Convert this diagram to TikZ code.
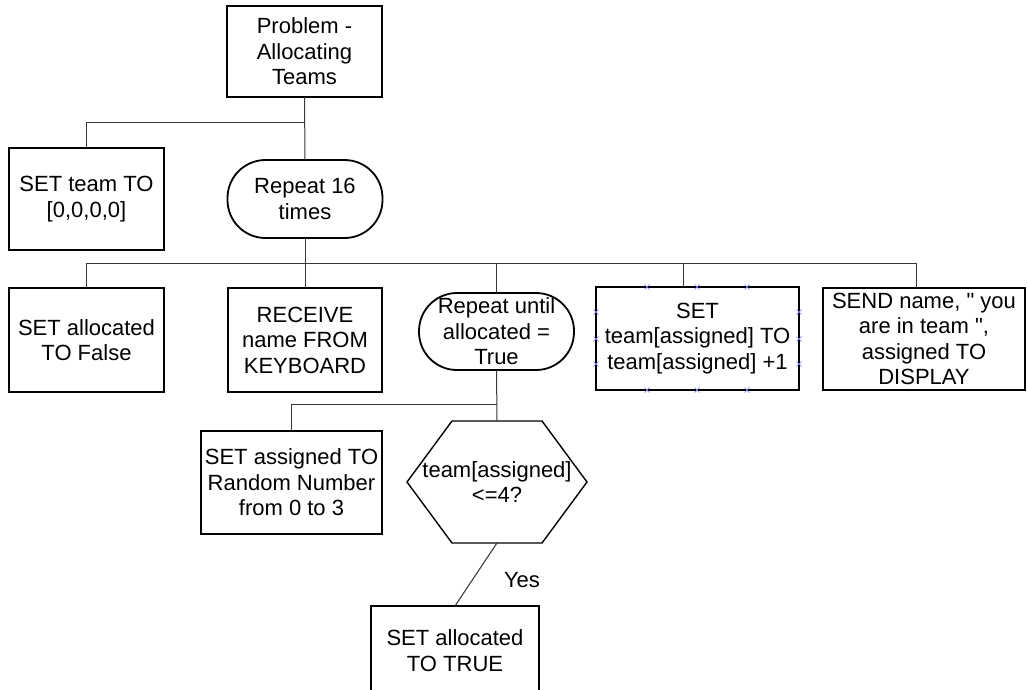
\documentclass[tikz,border=0pt]{standalone}
\usepackage{fontspec}
\setmainfont{Liberation Sans}
\usetikzlibrary{calc}
\begin{document}
\begin{tikzpicture}[x=1pt,y=-1pt,
  every node/.style={font=\fontsize{22}{25.5}\selectfont, align=center, inner sep=0pt, outer sep=0pt},
  box/.style 2 args={draw=black, line width=1.8pt, rectangle, minimum width=#1pt, minimum height=#2pt},
  thinbox/.style 2 args={draw=black, line width=1.4pt, rectangle, minimum width=#1pt, minimum height=#2pt},
  oval/.style 2 args={draw=black, line width=1.8pt, rectangle, rounded corners=38pt, minimum width=#1pt, minimum height=#2pt},
  hexline/.style={draw=black, line width=1.4pt, line join=miter},
  link/.style={draw=black!78, line width=1pt},
  handle/.style={draw=blue!50, line width=0.7pt}
]
\useasboundingbox (0,0) rectangle (1027,689);
\clip (0,0) rectangle (1027,689);

% top level
\node[box={155}{91}] (top) at (304.5,51.5) {Problem -\\Allocating\\Teams};
\node[box={155}{102}] (setteam) at (86.5,199) {SET team TO\\{}[0,0,0,0]};
\node[oval={155}{78}] (rep16) at (305,199) {Repeat 16\\times};

% body of the outer loop
\node[box={155}{104}] (setalloc) at (86.5,340) {SET allocated\\TO False};
\node[box={154}{104}] (receive) at (305,340) {RECEIVE\\name FROM\\KEYBOARD};
\node[oval={155}{77}] (repuntil) at (496.5,331.5) {Repeat until\\allocated =\\True};
\node[box={203}{103}] (setinc) at (697.5,338.5) {SET\\team[assigned] TO\\team[assigned] +1};
\node[box={202}{102}] (send) at (924,339) {SEND name, \textquotedbl{} you\\are in team \textquotedbl,\\assigned TO\\DISPLAY};

% body of the inner loop
\node[box={181}{103}] (setrand) at (291.5,482.5) {SET assigned TO\\Random Number\\from 0 to 3};
\node[minimum width=180pt, minimum height=122pt] (hex) at (497,482) {team[assigned]\\<=4?};
\draw[hexline] ($(hex.north west)+(45,0)$) -- ($(hex.north east)+(-45,0)$) -- (hex.east)
  -- ($(hex.south east)+(-45,0)$) -- ($(hex.south west)+(45,0)$) -- (hex.west) -- cycle;
\node[thinbox={168}{89}] (settrue) at (455,650.5) {SET allocated\\TO TRUE};
\node (yes) at (522,580) {Yes};

% connectors
\coordinate (b1) at (304.5,122);
\draw[link] (top.south) -- (rep16.north);
\draw[link] (b1) -| (setteam.north);

\coordinate (bl) at (86.5,263);
\coordinate (br) at (916,263);
\coordinate (dinc) at (683,263);
\draw[link] (rep16.south) -- (receive.north);
\draw[link] (setalloc.north) |- (br) -- (br |- send.north);
\draw[link] (repuntil.north) -- (repuntil.north |- br);
\draw[link] (dinc) -- (dinc |- setinc.north);

\coordinate (b3) at (496.5,404);
\draw[link] (repuntil.south) -- (hex.north);
\draw[link] (b3) -| (setrand.north);
\draw[link] (hex.south) -- (settrue.north);

% selection handles around the increment box
\foreach \hx in {647,697,747} {
  \foreach \hy in {287,390} {
    \draw[handle] (\hx-2.5,\hy-2.5) -- (\hx+2.5,\hy+2.5) (\hx-2.5,\hy+2.5) -- (\hx+2.5,\hy-2.5);
  }
}
\foreach \hx in {596,799} {
  \foreach \hy in {312,339,364} {
    \draw[handle] (\hx-2.5,\hy-2.5) -- (\hx+2.5,\hy+2.5) (\hx-2.5,\hy+2.5) -- (\hx+2.5,\hy-2.5);
  }
}
\end{tikzpicture}
\end{document}
